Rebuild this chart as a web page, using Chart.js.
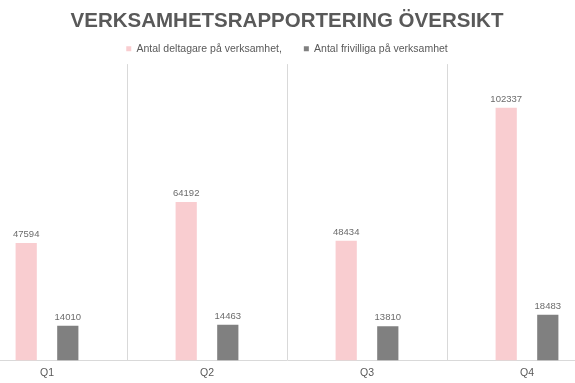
<!DOCTYPE html>
<html>
<head>
<meta charset="utf-8">
<script src="https://cdn.jsdelivr.net/npm/chart.js@4.4.1/dist/chart.umd.min.js"></script>
<style>
  html, body { margin: 0; padding: 0; background: #fff; overflow: hidden; width: 575px; height: 383px; }
  /* plot is wider than the window: the outer category edges are cut off like in the original */
  #wrap { position: absolute; left: -33px; top: 0; width: 640px; height: 390px; }
</style>
</head>
<body>
<div id="wrap"><canvas id="chart"></canvas></div>
<script>
// ─── DATA ─────────────────────────────────────────
const quarters = ['Q1', 'Q2', 'Q3', 'Q4'];
const deltagare = [47594, 64192, 48434, 102337];
const frivilliga = [14010, 14463, 13810, 18483];
const seriesNames = ['Antal deltagare på verksamhet,', 'Antal frivilliga på verksamhet'];
const chartTitle = 'VERKSAMHETSRAPPORTERING ÖVERSIKT';

const FONT = '"Liberation Sans", Arial, sans-serif';

// ─── VALUE LABELS ─────────────────────────────────
const valueLabels = {
    id: 'valueLabels',
    afterDatasetsDraw(chart) {
        const ctx = chart.ctx;
        ctx.save();
        ctx.font = '9.5px ' + FONT;
        ctx.fillStyle = '#6b6b6b';
        ctx.textAlign = 'center';
        ctx.textBaseline = 'bottom';
        chart.data.datasets.forEach((ds, i) => {
            chart.getDatasetMeta(i).data.forEach((bar, j) => {
                ctx.fillText(String(ds.data[j]), bar.x, bar.y - 4);
            });
        });
        ctx.restore();
    }
};

// ─── CHART ────────────────────────────────────────
new Chart(document.getElementById('chart'), {
    type: 'bar',
    data: {
        labels: quarters,
        datasets: [
            { label: seriesNames[0], data: deltagare, backgroundColor: '#f9cdd0' },
            { label: seriesNames[1], data: frivilliga, backgroundColor: '#808080' },
        ],
    },
    options: {
        responsive: true, maintainAspectRatio: false, animation: false,
        categoryPercentage: 0.52,
        barPercentage: 0.51,
        layout: { padding: { top: 0, bottom: 5, left: 0, right: 0 } },
        plugins: {
            title: {
                display: true, text: chartTitle, color: '#595959',
                font: { family: FONT, size: 20.5, weight: 'bold' },
                padding: { top: 9, bottom: -12 },
            },
            legend: {
                display: true,
                labels: {
                    color: '#595959', boxWidth: 5, boxHeight: 5, padding: 22,
                    font: { family: FONT, size: 10.5 },
                },
            },
            tooltip: { enabled: false },
        },
        scales: {
            x: {
                grid: { display: true, offset: true, color: '#d9d9d9', drawTicks: false },
                border: { display: true, color: '#d9d9d9' },
                ticks: { color: '#595959', padding: 6, font: { family: FONT, size: 10.5 } },
            },
            y: { display: false, min: 0, max: 120000 },
        },
    },
    plugins: [valueLabels],
});
</script>
</body>
</html>
